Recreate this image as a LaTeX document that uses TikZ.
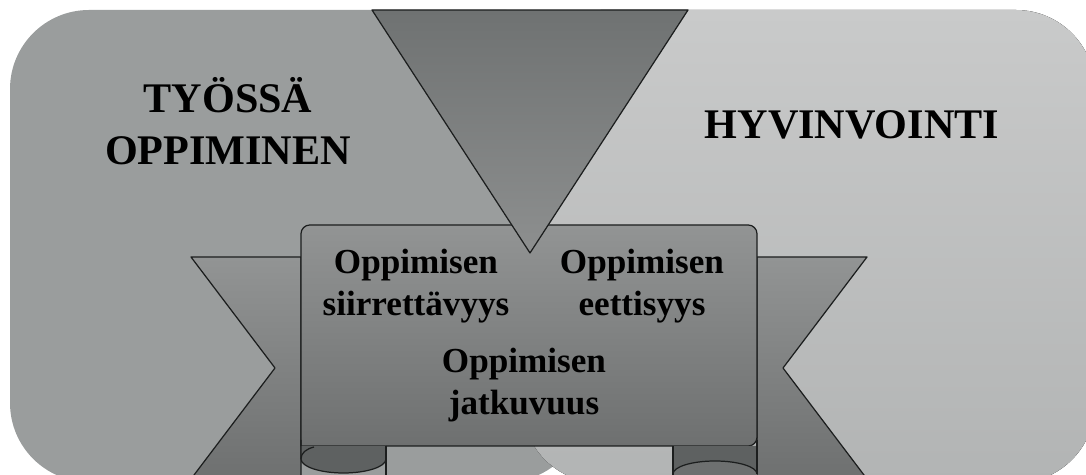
\documentclass[tikz,border=0pt]{standalone}
\usepackage{fontspec}
\setmainfont{Liberation Serif}

\definecolor{panelL}{HTML}{9A9D9D}
\definecolor{panelRtop}{HTML}{C9CACA}
\definecolor{panelRbot}{HTML}{B2B4B4}
\definecolor{scrolltop}{HTML}{929494}
\definecolor{scrollbot}{HTML}{6E7070}
\definecolor{wedgetop}{HTML}{6F7272}
\definecolor{wedgebot}{HTML}{8D8F8F}
\definecolor{curl}{HTML}{5E6161}
\definecolor{edge}{HTML}{1C1E1E}

\begin{document}
\begin{tikzpicture}[x=0.02cm, y=-0.02cm,
        outl/.style={draw=edge, line width=0.7pt, line join=round},
        headtxt/.style={font=\fontsize{24}{29.5}\selectfont\bfseries, align=center, inner sep=0pt},
        itemtxt/.style={font=\fontsize{20}{23.8}\selectfont\bfseries, align=center, inner sep=0pt}]

        \useasboundingbox (0,0) rectangle (1086,475);
        \clip (0,0) rectangle (1086,475);

        % the two back panels
        \fill[panelL, rounded corners=45pt] (10,10) rectangle (585,482);
        \fill[top color=panelRtop, bottom color=panelRbot, rounded corners=45pt] (522,10) rectangle (1095,483);

        % ribbon tails
        \path[outl, top color=scrolltop, bottom color=scrollbot]
        (191,257) -- (301,257) -- (301,479) -- (191,479) -- (275,368) -- cycle;
        \path[outl, top color=scrolltop, bottom color=scrollbot]
        (867,257) -- (757,257) -- (757,479) -- (867,479) -- (783,368) -- cycle;

        % scroll
        \path[outl, top color=scrolltop, bottom color=scrollbot]
        (301,446) [rounded corners=5pt] -- (301,225) -- (757,225) -- (757,446) [sharp corners] -- cycle;

        % left roll
        \fill[curl] (301,446) -- (301,459) .. controls (301,466.7) and (320,473) .. (343.5,473)
        .. controls (367,473) and (386,466.7) .. (386,459) -- (386,446) -- cycle;
        \draw[outl] (301,440) -- (301,459) .. controls (301,466.7) and (320,473) .. (343.5,473)
        .. controls (367,473) and (386,466.7) .. (386,459);
        \draw[outl] (301,459) .. controls (301,453) and (306,449) .. (314,447);
        \draw[outl] (386,446) -- (386,479);

        % right roll
        \fill[curl] (673,446) -- (673,474) .. controls (673,466.8) and (691.8,461) .. (715,461)
        .. controls (738.2,461) and (757,466.8) .. (757,474) -- (757,446) -- cycle;
        \fill[scrollbot] (715,474) ellipse[x radius=42, y radius=13];
        \draw[outl] (673,474) .. controls (673,466.8) and (691.8,461) .. (715,461)
        .. controls (738.2,461) and (757,466.8) .. (757,474);
        \draw[outl] (673,446) -- (673,479);
        \draw[outl] (757,440) -- (757,474);

        % wedge from the top
        \path[outl, top color=wedgetop, bottom color=wedgebot] (372,10) -- (688,10) -- (530,253) -- cycle;

        \node[headtxt] (work) at (228,121) {TYÖSSÄ\\OPPIMINEN};
        \node[headtxt] (wellbeing) at (852,125) {HYVINVOINTI};

        \node[itemtxt] (transfer) at (416,286) {Oppimisen\\siirrettävyys};
        \node[itemtxt] (ethics) at (642,286) {Oppimisen\\eettisyys};
        \node[itemtxt] (continuity) at (524,385) {Oppimisen\\jatkuvuus};
    \end{tikzpicture}
\end{document}
